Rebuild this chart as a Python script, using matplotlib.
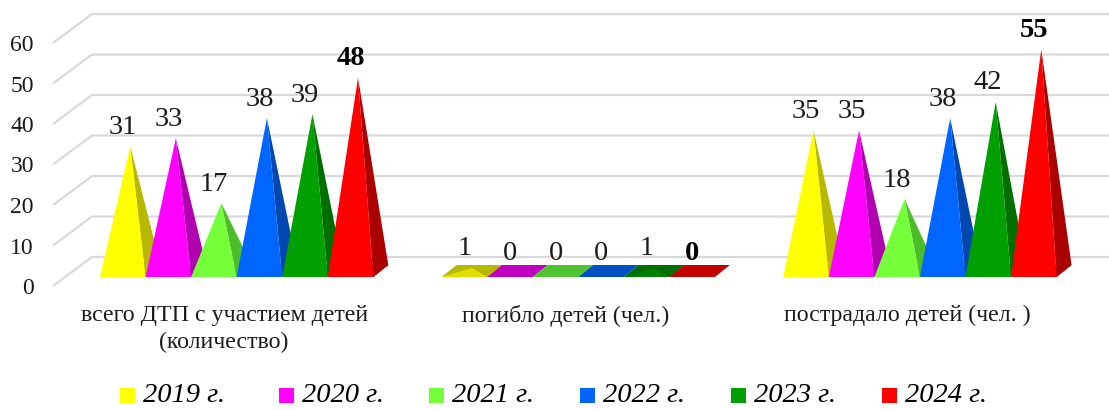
import matplotlib
matplotlib.use('Agg')
import matplotlib.pyplot as plt
from matplotlib.patches import Polygon, Rectangle

plt.rcParams['font.family'] = ['Liberation Serif', 'DejaVu Serif']

categories = ['всего ДТП с участием детей\n(количество)', 'погибло детей (чел.)', 'пострадало детей (чел. )']
years = ['2019 г.', '2020 г.', '2021 г.', '2022 г.', '2023 г.', '2024 г.']
values = [
    [31, 33, 17, 38, 39, 48],
    [1, 0, 0, 0, 1, 0],
    [35, 35, 18, 38, 42, 55],
]
y_ticks = [0, 10, 20, 30, 40, 50, 60]

front_colors = ['#ffff00', '#ff00ff', '#75ff3a', '#0066ff', '#00a000', '#ff0000']
side_colors = ['#b8b800', '#b000b0', '#4cbc28', '#0048b0', '#006f00', '#ab0000']
flat_colors = ['#e0e000', '#c000c0', '#50c430', '#0050c4', '#008000', '#c40000']

# one x unit is a bar width, one y unit is one count on the value axis
PX_X = 45.55
PX_Y = 4.05
GROUP_STEP = 7.5
# oblique depth of the pyramids and of the whole chart box
BAR_DX, BAR_DY = 15 / PX_X, 12 / PX_Y
WALL_DX, WALL_DY = 39 / PX_X, 29 / PX_Y
FRONT_X, FRONT_Y = -47 / PX_X, -9 / PX_Y
# left edge of each legend entry, the first gap is wider in the original
LEGEND_LEFT = [120, 279, 429, 580, 731, 882]

fig = plt.figure(figsize=(11.09, 4.09), dpi=100)
ax = fig.add_axes([0, 0, 1, 1])
ax.set_xlim(-100 / PX_X, 1009 / PX_X)
ax.set_ylim(-132 / PX_Y, 277 / PX_Y)
ax.axis('off')

# gridlines: side wall diagonal, then back wall
for t in y_ticks:
    ax.plot([FRONT_X, FRONT_X + WALL_DX, ax.get_xlim()[1]],
            [FRONT_Y + t, FRONT_Y + WALL_DY + t, FRONT_Y + WALL_DY + t],
            color='#d9d9d9', lw=1.6, zorder=1, solid_capstyle='butt')
    ax.text(FRONT_X - 19 / PX_X, FRONT_Y + t, str(t), ha='right', va='center_baseline',
            fontsize=17, color='#1a1a1a')

for g, group in enumerate(values):
    x0 = g * GROUP_STEP
    for i, v in enumerate(group):
        left, right = x0 + i, x0 + i + 1
        apex = (left + 0.5 + BAR_DX / 2, BAR_DY / 2 - 1 / PX_Y + v)
        z = 2 + i
        # floor of the pyramid, only visible on very low values
        base = [(left, 0), (right, 0), (right + BAR_DX, BAR_DY), (left + BAR_DX, BAR_DY)]
        ax.add_patch(Polygon(base, color=side_colors[i] if v > 0 else flat_colors[i], lw=0, zorder=z))
        if v > 0:
            ax.add_patch(Polygon([(right, 0), (right + BAR_DX, BAR_DY), apex],
                                 color=side_colors[i], lw=0, zorder=z))
            face = front_colors[i] if v > 1 else flat_colors[i]
            ax.add_patch(Polygon([(left, 0), (right, 0), apex], color=face, lw=0, zorder=z))
        last = i == len(group) - 1
        ax.text(left + 0.5, apex[1] + 22 / PX_Y, str(v), ha='center', va='center_baseline',
                fontsize=20.5, color='black' if last else '#1a1a1a',
                fontweight='bold' if last else 'normal', zorder=20)
    ax.text(x0 + 3 - 12.5 / PX_X, -28 / PX_Y, categories[g], ha='center', va='top',
            fontsize=17.2, color='#1a1a1a', linespacing=1.35)

# legend drawn by hand so the uneven spacing can be kept
for px, year, color in zip(LEGEND_LEFT, years, front_colors):
    lx = (px - 100) / PX_X
    ax.add_patch(Rectangle((lx, -126 / PX_Y), 15 / PX_X, 15 / PX_Y, color=color, lw=0))
    ax.text(lx + 23 / PX_X, -118 / PX_Y, year, ha='left', va='center',
            fontsize=20.5, fontstyle='italic', color='black')

fig.savefig('out.png', dpi=100)
